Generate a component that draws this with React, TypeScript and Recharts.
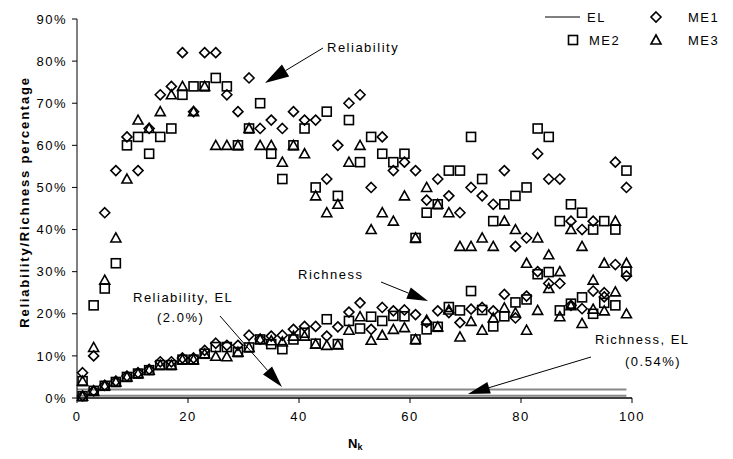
import { ScatterChart, Scatter, XAxis, YAxis, ReferenceLine } from "recharts"

const FONT = '"Liberation Sans", Arial, sans-serif'

// N_k values (odd sizes)
const NK = [
  1, 3, 5, 7, 9, 11, 13, 15, 17, 19, 21, 23, 25, 27, 29, 31, 33, 35, 37, 39, 41, 43, 45, 47, 49,
  51, 53, 55, 57, 59, 61, 63, 65, 67, 69, 71, 73, 75, 77, 79, 81, 83, 85, 87, 89, 91, 93, 95, 97, 99,
]

// reliability (%)
const ME1_REL = [
  6, 10, 44, 54, 62, 54, 64, 72, 74, 82, 68, 82, 82, 72, 68, 76, 64, 66, 64, 68, 66, 66, 52, 60, 70,
  72, 50, 62, 54, 56, 54, 47, 52, 48, 44, 50, 48, 46, 54, 36, 38, 58, 52, 52, 42, 40, 42, 25, 56, 50,
]
const ME2_REL = [
  4, 22, 26, 32, 60, 62, 58, 62, 64, 72, 74, 74, 76, 74, 60, 64, 70, 58, 52, 60, 64, 50, 68, 48, 66,
  56, 62, 58, 56, 58, 38, 44, 46, 54, 54, 62, 52, 42, 46, 48, 50, 64, 62, 42, 46, 44, 40, 42, 40, 54,
]
const ME3_REL = [
  4, 12, 28, 38, 52, 66, 64, 68, 72, 74, 68, 74, 60, 60, 60, 64, 60, 60, 56, 60, 58, 48, 44, 46, 56,
  60, 40, 44, 42, 48, 38, 50, 46, 44, 36, 36, 38, 36, 42, 40, 32, 38, 34, 30, 40, 36, 28, 32, 42, 32,
]

// richness (%)
const ME1_RICH = [
  0.5, 1.7, 3, 4, 5.2, 6, 6.8, 8.6, 8.6, 9.5, 9.5, 11.3, 13, 12.5, 12.5, 14.9, 14, 14.7, 14.9, 16.3,
  17, 17, 14.7, 16.9, 20.4, 22.6, 16.3, 21.5, 20.7, 20.9, 19.8, 18, 20.7, 20.3, 17.9, 21.1, 21.5,
  20.7, 24.6, 19, 24.2, 30, 27.2, 27.2, 22, 21.2, 25.4, 24, 31.7, 29,
]
const ME2_RICH = [
  0.4, 1.7, 2.9, 3.8, 5, 5.8, 6.6, 7.8, 7.8, 9.1, 9.1, 10.5, 12.1, 12.1, 10.9, 12, 13.9, 12.8, 11.6,
  13.9, 15.5, 12.9, 18.7, 12.8, 18.3, 16.5, 19.3, 18.3, 19.5, 19.4, 13.9, 16.3, 16.9, 21.6, 20.8,
  25.4, 20.9, 17, 19.4, 22.7, 23.4, 29.4, 29.9, 20.8, 22.4, 23.9, 20, 22.6, 22, 30,
]
const ME3_RICH = [
  0.4, 1.7, 2.9, 3.8, 5, 5.8, 6.6, 7.8, 7.8, 9.1, 9.1, 10.5, 9.9, 9.8, 10.9, 12, 13.9, 13.6, 13.3,
  14.7, 14.7, 12.8, 12.5, 12.6, 16.1, 19.3, 13.7, 14.9, 16.3, 16.7, 13.9, 18.5, 16.9, 20.9, 14.5,
  18.2, 16.1, 19, 21.4, 20.2, 16.1, 20.8, 26, 19.3, 21.9, 17.7, 21.1, 20.7, 25.2, 20,
]

// EL (expected level) lines
const EL_X = [0, 99]
const EL_REL = 2.0
const EL_RICH = 0.54

const X_TICKS = [0, 20, 40, 60, 80, 100]
const Y_TICKS = [0, 10, 20, 30, 40, 50, 60, 70, 80, 90]

const toPoints = (a: number[], b: number[]) => [
  ...NK.map((x, i) => ({ x, y: a[i] })),
  ...NK.map((x, i) => ({ x, y: b[i] })),
]

const STROKE = { fill: "none", stroke: "#000", strokeWidth: 1.6 }

const Diamond = ({ cx, cy }: any) =>
  cx == null ? <g /> : <path d={`M${cx},${cy - 5}L${cx + 5},${cy}L${cx},${cy + 5}L${cx - 5},${cy}Z`} {...STROKE} />
const Square = ({ cx, cy }: any) =>
  cx == null ? <g /> : <rect x={cx - 4.5} y={cy - 4.5} width={9} height={9} {...STROKE} />
const Triangle = ({ cx, cy }: any) =>
  cx == null ? <g /> : <path d={`M${cx},${cy - 5}L${cx + 5},${cy + 4}L${cx - 5},${cy + 4}Z`} {...STROKE} />

const Arrow = ({ x1, y1, x2, y2, head = 22, half = 6 }: any) => {
  const dx = x2 - x1
  const dy = y2 - y1
  const len = Math.hypot(dx, dy)
  const ux = dx / len
  const uy = dy / len
  const bx = x2 - ux * head
  const by = y2 - uy * head
  const px = -uy * half
  const py = ux * half
  return (
    <g>
      <line x1={x1} y1={y1} x2={bx} y2={by} stroke="#000" strokeWidth={1} />
      <polygon points={`${x2},${y2} ${bx + px},${by + py} ${bx - px},${by - py}`} fill="#000" />
    </g>
  )
}

const txt = { fontFamily: FONT, fontSize: 13, fill: "#000", style: { letterSpacing: "1.5px" } }

export default function App() {
  return (
    <div style={{ position: "absolute", left: 0, top: 0, width: 733, height: 459, background: "#fff" }}>
      <ScatterChart width={733} height={459} margin={{ top: 19, right: 101, left: 0, bottom: 0 }}>
        <XAxis
          type="number"
          dataKey="x"
          domain={[0, 100]}
          ticks={X_TICKS}
          height={61}
          axisLine={{ stroke: "#000", strokeWidth: 1.5 }}
          tickLine={{ stroke: "#000" }}
          tickSize={5}
          tickMargin={9}
          tick={{ fill: "#000", fontSize: 13, fontFamily: FONT, style: { letterSpacing: "1.5px" } }}
        />
        <YAxis
          type="number"
          dataKey="y"
          domain={[0, 90]}
          ticks={Y_TICKS}
          width={77}
          axisLine={{ stroke: "#000", strokeWidth: 1 }}
          tickLine={{ stroke: "#000" }}
          tickSize={5}
          tickMargin={5}
          tickFormatter={(v) => `${v}%`}
          tick={{ fill: "#000", fontSize: 13, fontFamily: FONT, style: { letterSpacing: "1.5px" } }}
        />
        <ReferenceLine
          segment={[{ x: EL_X[0], y: EL_REL }, { x: EL_X[1], y: EL_REL }]}
          stroke="#888"
          strokeWidth={2}
        />
        <ReferenceLine
          segment={[{ x: EL_X[0], y: EL_RICH }, { x: EL_X[1], y: EL_RICH }]}
          stroke="#888"
          strokeWidth={2}
        />
        <Scatter name="ME1" data={toPoints(ME1_REL, ME1_RICH)} shape={Diamond} isAnimationActive={false} />
        <Scatter name="ME2" data={toPoints(ME2_REL, ME2_RICH)} shape={Square} isAnimationActive={false} />
        <Scatter name="ME3" data={toPoints(ME3_REL, ME3_RICH)} shape={Triangle} isAnimationActive={false} />
      </ScatterChart>

      <svg width={733} height={459} style={{ position: "absolute", left: 0, top: 0, pointerEvents: "none" }}>
        {/* axis titles */}
        <text
          transform="translate(29,202) rotate(-90)"
          textAnchor="middle"
          fontFamily={FONT}
          fontSize={13}
          fontWeight="bold"
          style={{ letterSpacing: "1.8px" }}
        >
          Reliability/Richness percentage
        </text>
        <text x={348} y={448} fontFamily={FONT} fontSize={13} fontWeight="bold">
          N<tspan fontSize={9} dy={2}>k</tspan>
        </text>

        {/* annotations */}
        <text x={327} y={52} {...txt}>Reliability</text>
        <Arrow x1={323} y1={48} x2={265} y2={83} head={24} half={7} />
        <text x={298} y={279} {...txt}>Richness</text>
        <Arrow x1={381} y1={282} x2={428} y2={301} head={21} half={6} />
        <text x={133} y={302} {...txt}>Reliability, EL</text>
        <text x={157} y={322} {...txt}>(2.0%)</text>
        <Arrow x1={220} y1={316} x2={282} y2={387} head={22} half={6} />
        <text x={595} y={344} {...txt}>Richness, EL</text>
        <text x={625} y={366} {...txt}>(0.54%)</text>
        <Arrow x1={591} y1={357} x2={468} y2={394} head={22} half={6} />

        {/* legend */}
        <line x1={545} y1={17} x2={580} y2={17} stroke="#000" strokeWidth={1} />
        <text x={587} y={22} {...txt}>EL</text>
        <Diamond cx={656} cy={17} />
        <text x={688} y={22} {...txt}>ME1</text>
        <Square cx={573} cy={40} />
        <text x={589} y={45} {...txt}>ME2</text>
        <Triangle cx={656} cy={40} />
        <text x={688} y={45} {...txt}>ME3</text>
      </svg>
    </div>
  )
}
